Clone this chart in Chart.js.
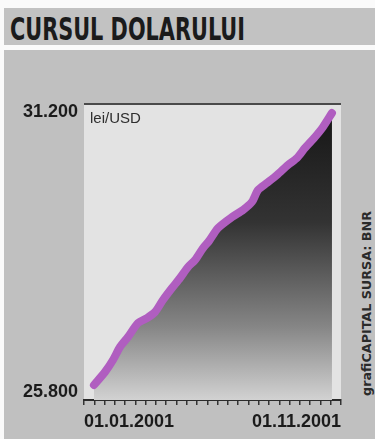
<!DOCTYPE html>
<html>
<head>
<meta charset="utf-8">
<script src="https://cdn.jsdelivr.net/npm/chart.js@4.4.1/dist/chart.umd.min.js"></script>
<style>
  html, body { margin: 0; padding: 0; background: #fafafa; width: 375px; height: 439px; overflow: hidden; }
  #band { position: absolute; left: 4px; top: 8px; width: 371px; height: 37px; background: #c2c2c2; }
  #panel { position: absolute; left: 4px; top: 50px; width: 371px; height: 389px; background: #c0c0c0; }
  #title { position: absolute; left: 10px; top: 13px; font-family: "Liberation Sans Narrow", "DejaVu Sans Condensed", "Liberation Sans", sans-serif; font-weight: bold; font-size: 32px; line-height: 32px; color: #1b1b1b; white-space: nowrap; transform-origin: 0 0; }
  #source { position: absolute; font-family: "Liberation Sans Narrow", "DejaVu Sans Condensed", "Liberation Sans", sans-serif; font-weight: bold; font-size: 13px; line-height: 13px; color: #2a2a2a; white-space: nowrap; }
  #c { position: absolute; left: 0; top: 0; }
</style>
</head>
<body>
<div id="band"></div>
<div id="panel"></div>
<div id="title">CURSUL DOLARULUI</div>
<div id="source">grafiCAPITAL SURSA: BNR</div>
<canvas id="c" width="375" height="439"></canvas>
<script>
// ---- data ----
const periodIndex = [0.97, 2.04, 2.82, 3.50, 4.28, 5.25, 6.13, 6.91, 7.68, 8.56, 9.34, 10.12, 10.80, 11.58, 12.16, 13.04, 14.40, 15.47, 16.34, 16.93, 17.80, 18.77, 19.84, 20.72, 21.50, 22.47, 23.25, 24.12];
const rateLeiPerUsd = [25935, 26186, 26417, 26668, 26861, 27131, 27227, 27343, 27575, 27806, 27999, 28211, 28346, 28577, 28712, 28963, 29175, 29310, 29465, 29696, 29831, 29985, 30178, 30313, 30506, 30718, 30911, 31180];
const xTickLabels = ['01.01.2001', '01.11.2001'];
const yTickValues = [25800, 31200];
const yAxisBounds = [25646, 31354];
const unitLabel = 'lei/USD';

// ---- text fitting for HTML labels ----
const title = document.getElementById('title');
const tw = title.getBoundingClientRect().width;
title.style.transform = 'scaleX(' + (235 / tw) + ')';

const src = document.getElementById('source');
const sw = src.offsetWidth, sh = src.offsetHeight;
const cx = 367, cy = 303;
src.style.left = (cx - sw / 2) + 'px';
src.style.top = (cy - sh / 2) + 'px';
src.style.transform = 'rotate(-90deg) scaleX(' + (185 / sw) + ')';

// ---- chart ----
const points = periodIndex.map((x, i) => ({ x: x, y: rateLeiPerUsd[i] }));

const panelPlugin = {
  id: 'panel',
  beforeDraw(chart) {
    const { ctx, chartArea: a } = chart;
    ctx.save();
    ctx.fillStyle = '#e3e3e3';
    ctx.fillRect(a.left, a.top, a.right - a.left, a.bottom - a.top);
    ctx.restore();
  },
  afterDatasetsDraw(chart) {
    const { ctx, chartArea: a } = chart;
    ctx.save();
    ctx.fillStyle = '#2e2e2e';
    ctx.font = '15px "Liberation Sans Narrow", "Liberation Sans", sans-serif';
    ctx.textBaseline = 'top';
    ctx.fillText(unitLabel, a.left + 6, a.top + 7);
    ctx.restore();
  }
};

new Chart(document.getElementById('c'), {
  type: 'line',
  data: {
    datasets: [{
      data: points,
      borderColor: '#b05ec0',
      borderWidth: 8,
      borderCapStyle: 'round',
      borderJoinStyle: 'round',
      pointRadius: 0,
      tension: 0.25,
      fill: 'start',
      clip: false,
      backgroundColor(ctx) {
        const a = ctx.chart.chartArea;
        if (!a) return '#555';
        const g = ctx.chart.ctx.createLinearGradient(0, a.top, 0, a.bottom);
        g.addColorStop(0, '#141414');
        g.addColorStop(0.4, '#333333');
        g.addColorStop(0.75, '#858585');
        g.addColorStop(1, '#d2d2d2');
        return g;
      }
    }]
  },
  options: {
    responsive: false,
    animation: false,
    devicePixelRatio: 1,
    layout: { padding: { left: 0, top: 104, right: 34, bottom: 0 } },
    plugins: { legend: { display: false }, tooltip: { enabled: false }, title: { display: false } },
    scales: {
      x: {
        type: 'linear',
        min: 0,
        max: 25,
        afterFit(scale) { scale.height = 39; },
        afterBuildTicks(scale) {
          const t = [];
          for (let i = 0; i <= 25; i++) t.push({ value: i });
          scale.ticks = t;
        },
        ticks: {
          autoSkip: false,
          maxRotation: 0,
          minRotation: 0,
          align: 'inner',
          padding: 6,
          color: '#1b1b1b',
          font: { family: '"Liberation Sans", Arial, sans-serif', size: 18, weight: 'bold' },
          callback(v) {
            if (v === 0) return xTickLabels[0];
            if (v === 25) return xTickLabels[1];
            return '';
          }
        },
        grid: { drawOnChartArea: false, drawTicks: true, tickLength: 5, color: '#333', lineWidth: 1.5 },
        border: { display: true, color: '#2a2a2a', width: 2 }
      },
      y: {
        type: 'linear',
        min: yAxisBounds[0],
        max: yAxisBounds[1],
        afterFit(scale) { scale.width = 84; },
        afterBuildTicks(scale) {
          scale.ticks = yTickValues.map(v => ({ value: v })).concat([{ value: yAxisBounds[1] }]);
        },
        ticks: {
          padding: 6,
          color: '#1b1b1b',
          font: { family: '"Liberation Sans", Arial, sans-serif', size: 18, weight: 'bold' },
          callback(v) { return yTickValues.includes(v) ? (v / 1000).toFixed(3) : ''; }
        },
        grid: {
          drawTicks: false,
          lineWidth: 2,
          color(ctx) { return ctx.tick && ctx.tick.value === yAxisBounds[1] ? '#4a4a4a' : 'rgba(0,0,0,0)'; }
        },
        border: { display: false }
      }
    }
  },
  plugins: [panelPlugin]
});
</script>
</body>
</html>
